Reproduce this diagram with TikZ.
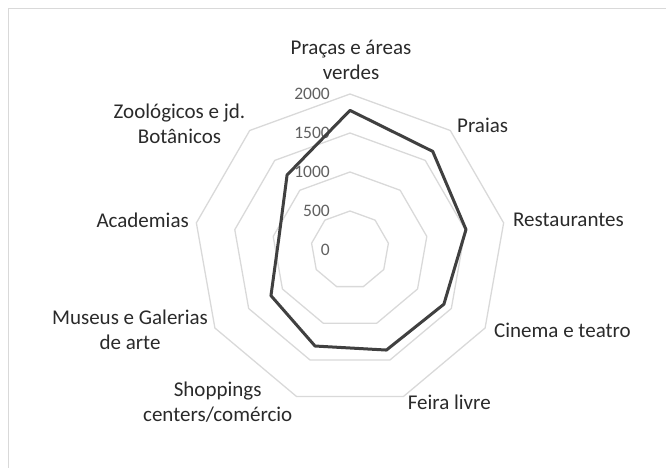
\documentclass[tikz,border=0pt]{standalone}
\usepackage{fontspec}
\setmainfont{Carlito}
\usetikzlibrary{positioning}
\definecolor{gridgray}{HTML}{D9D9D9}
\definecolor{linegray}{HTML}{404040}
\definecolor{labelgray}{HTML}{2A2A2A}
\definecolor{valuegray}{HTML}{606060}

\begin{document}
\begin{tikzpicture}[x=1pt,y=1pt,
    category/.style={text=labelgray,font=\fontsize{21}{25.5}\selectfont,inner sep=0pt,align=center},
    value/.style={text=valuegray,font=\fontsize{17.5}{21}\selectfont,inner sep=0pt,anchor=east},
    grid/.style={draw=gridgray,line width=1.3pt},
    series/.style={draw=linegray,line width=3pt,line join=round}]

\useasboundingbox (-350,-218) rectangle (316,250);
\draw[gridgray, line width=1pt] (-341.5,-218) -- (-341.5,241.7) -- (316,241.7);

% grid
\foreach \r in {39,78,117,156}
  \draw[grid] (90:\r) \foreach \a in {50,10,...,-230} { -- (\a:\r) } -- cycle;

% axis values
\foreach \v [count=\i from 0] in {0,500,1000,1500,2000}
  \node[value] (v\v) at (-20,39*\i) {\v};

% series
\foreach \v [count=\i from 0] in {1790,1650,1510,1390,1365,1310,1170,925,1255}
  \coordinate (d\i) at ({90-40*\i}:{0.078*\v});
\draw[series] (d0) -- (d1) -- (d2) -- (d3) -- (d4) -- (d5) -- (d6) -- (d7) -- (d8) -- cycle;

% categories
\node[category] (pracas) at (1,190.3) {Praças e áreas\\verdes};
\node[category, anchor=west] (praias) at (107,125) {Praias};
\node[category, anchor=west] (restaurantes) at (163,30) {Restaurantes};
\node[category, anchor=west] (cinema) at (144,-80) {Cinema e teatro};
\node[category] (feira) at (99.3,-152) {Feira livre};
\node[category] (shoppings) at (-132.3,-152) {Shoppings\\centers/comércio};
\node[category] (museus) at (-220,-80) {Museus e Galerias\\de arte};
\node[category, anchor=east] (academias) at (-161,30) {Academias};
\node[category] (zoo) at (-170.5,126) {Zoológicos e jd.\\Botânicos};

\end{tikzpicture}
\end{document}
